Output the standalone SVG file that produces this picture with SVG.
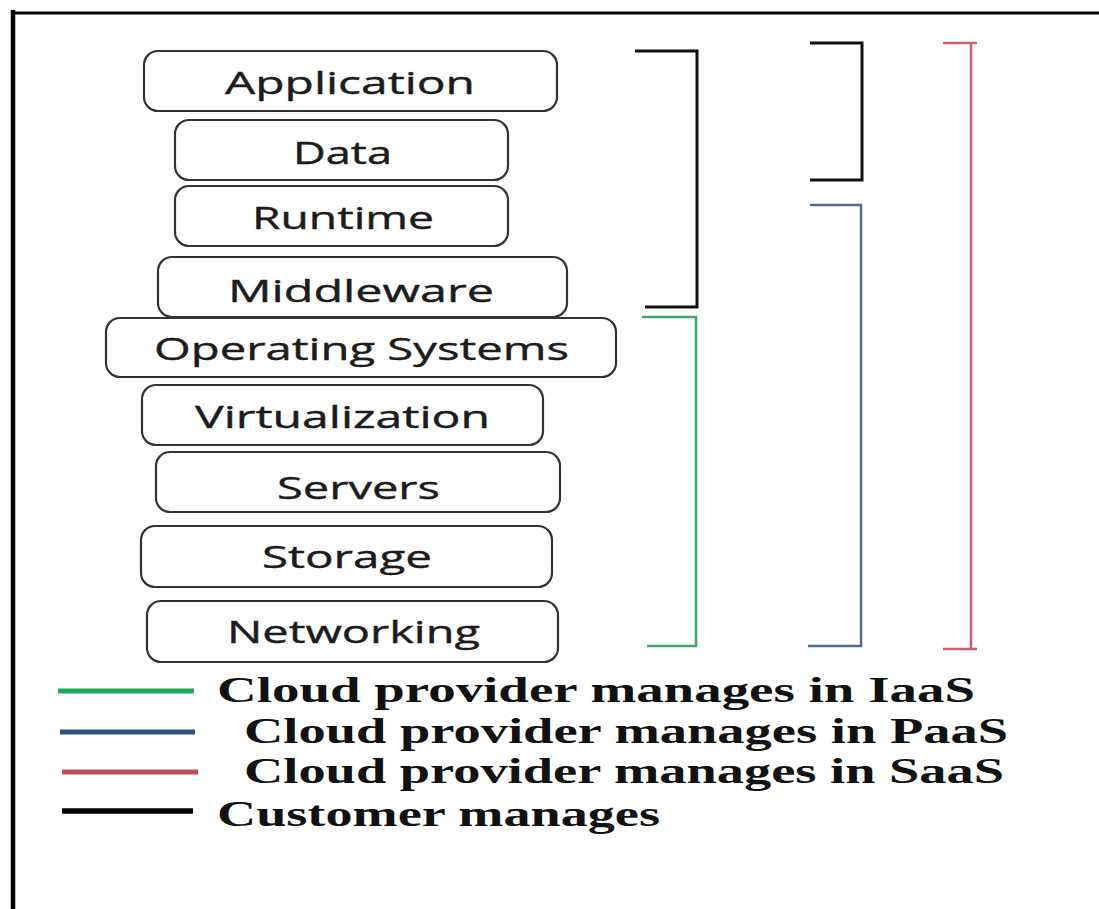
<svg xmlns="http://www.w3.org/2000/svg" width="1099" height="909" viewBox="0 0 1099 909">
<style>
.box{fill:#fff;stroke:#333;stroke-width:2.2}
.lbl{font-family:"Open Sans","DejaVu Sans",sans-serif;font-size:31px;fill:#1c1c1c;stroke:#1c1c1c;stroke-width:0.4}
.leg{font-family:"Liberation Serif","Times New Roman",serif;font-size:35px;font-weight:bold;fill:#111}
.br{fill:none;stroke-linecap:butt;stroke-linejoin:miter}
</style>
<rect x="0" y="0" width="1099" height="909" fill="#fff"/>
<g id="frame">
<line x1="13" y1="10" x2="13" y2="909" stroke="#000" stroke-width="4.5"/>
<line x1="11" y1="13" x2="1099" y2="13" stroke="#000" stroke-width="3"/>
</g>
<g id="application"><rect class="box" x="144" y="51" width="413" height="60" rx="14"/><text class="lbl" x="225" y="94" textLength="250" lengthAdjust="spacingAndGlyphs">Application</text></g>
<g id="data"><rect class="box" x="175" y="120" width="333" height="60" rx="14"/><text class="lbl" x="293" y="164" textLength="99" lengthAdjust="spacingAndGlyphs">Data</text></g>
<g id="runtime"><rect class="box" x="175" y="186" width="333" height="60" rx="14"/><text class="lbl" x="252" y="229" textLength="182" lengthAdjust="spacingAndGlyphs">Runtime</text></g>
<g id="middleware"><rect class="box" x="158" y="257" width="409" height="60" rx="14"/><text class="lbl" x="228" y="302" textLength="266" lengthAdjust="spacingAndGlyphs">Middleware</text></g>
<g id="operating-systems"><rect class="box" x="106" y="318" width="510" height="59" rx="14"/><text class="lbl" x="154" y="360" textLength="415" lengthAdjust="spacingAndGlyphs">Operating Systems</text></g>
<g id="virtualization"><rect class="box" x="142" y="385" width="401" height="60" rx="14"/><text class="lbl" x="195" y="428" textLength="295" lengthAdjust="spacingAndGlyphs">Virtualization</text></g>
<g id="servers"><rect class="box" x="156" y="452" width="404" height="60" rx="14"/><text class="lbl" x="277" y="499" textLength="163" lengthAdjust="spacingAndGlyphs">Servers</text></g>
<g id="storage"><rect class="box" x="141" y="526" width="411" height="61" rx="14"/><text class="lbl" x="262" y="568" textLength="170" lengthAdjust="spacingAndGlyphs">Storage</text></g>
<g id="networking"><rect class="box" x="147" y="601" width="411" height="61" rx="14"/><text class="lbl" x="227" y="643" textLength="253" lengthAdjust="spacingAndGlyphs">Networking</text></g>
<g id="connectors">
<polyline class="br" points="635,51 697,51 697,307 645,307" stroke="#111" stroke-width="3"/>
<polyline class="br" points="810,43 862,43 862,180 810,180" stroke="#111" stroke-width="3"/>
<polyline class="br" points="810,205 861,205 861,646 808,646" stroke="#4d6a92" stroke-width="2.5"/>
<polyline class="br" points="642,317 696,317 696,646 647,646" stroke="#3aa862" stroke-width="2.5"/>
<line x1="943" y1="43" x2="977" y2="43" stroke="#c86070" stroke-width="2.5"/>
<line x1="971" y1="43" x2="971" y2="649" stroke="#c86070" stroke-width="2.5"/>
<line x1="943" y1="649" x2="977" y2="649" stroke="#c86070" stroke-width="2.5"/>
</g>
<g id="legend">
<line x1="58" y1="691" x2="194" y2="691" stroke="#1faa5a" stroke-width="5"/>
<line x1="60" y1="732" x2="195" y2="732" stroke="#2d4f7c" stroke-width="5"/>
<line x1="62" y1="772" x2="198" y2="772" stroke="#c0505e" stroke-width="5"/>
<line x1="62" y1="811" x2="193" y2="811" stroke="#000" stroke-width="5.5"/>
<text class="leg" x="217" y="702" textLength="758" lengthAdjust="spacingAndGlyphs">Cloud provider manages in IaaS</text>
<text class="leg" x="244" y="743" textLength="764" lengthAdjust="spacingAndGlyphs">Cloud provider manages in PaaS</text>
<text class="leg" x="244" y="783" textLength="760" lengthAdjust="spacingAndGlyphs">Cloud provider manages in SaaS</text>
<text class="leg" x="217" y="826" textLength="443" lengthAdjust="spacingAndGlyphs">Customer manages</text>
</g>
</svg>
